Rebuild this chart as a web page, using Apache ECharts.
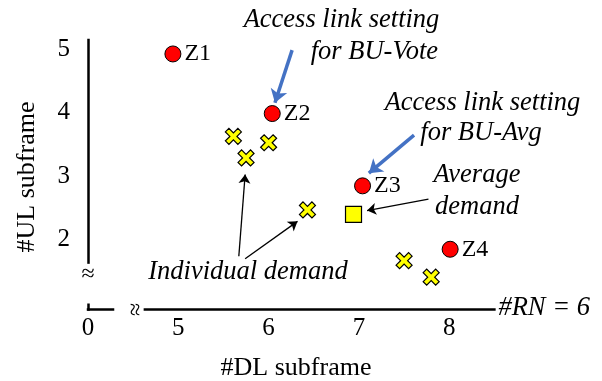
<!DOCTYPE html>
<html>
<head>
<meta charset="utf-8">
<script src="https://cdn.jsdelivr.net/npm/echarts@6/dist/echarts.min.js"></script>
<style>html,body{margin:0;padding:0;background:#fff}#c{width:602px;height:381px}</style>
</head>
<body>
<div id="c"></div>
<script>
// ---- data ----
const zoneNames = ['Z1', 'Z2', 'Z3', 'Z4'];
const zoneDL = [4.94, 6.04, 7.04, 8.01];
const zoneUL = [4.93, 3.99, 2.85, 1.85];
const indivDL = [5.61, 5.75, 6.00, 6.43, 7.50, 7.80];
const indivUL = [3.63, 3.29, 3.53, 2.47, 1.67, 1.41];
const avgDL = [6.94];
const avgUL = [2.40];
const xTickValues = [4, 5, 6, 7, 8];
const xTickLabels = ['0', '5', '6', '7', '8'];
const yTickValues = [2, 3, 4, 5];
const xMin = 4, xMax = 8.5, yMin = 0.9, yMax = 5.15;

// annotation arrows in data coordinates: [fromDL, fromUL, toDL, toUL]
const blueArrows = [[6.26, 4.99, 6.07, 4.16], [7.61, 3.65, 7.11, 3.05]];
const blackArrows = [[7.77, 2.64, 7.09, 2.46], [5.67, 1.74, 5.74, 3.03], [5.74, 1.70, 6.32, 2.29]];

const SERIF = 'Liberation Serif';
const chart = echarts.init(document.getElementById('c'), null, { renderer: 'canvas' });

const xPath = 'path://M0,2.2L2.2,0L5,2.8L7.8,0L10,2.2L7.2,5L10,7.8L7.8,10L5,7.2L2.2,10L0,7.8L2.8,5Z';

function seg(a, b, c, d) { return [{ coord: [a, b] }, { coord: [c, d] }]; }

chart.setOption({
  animation: false,
  grid: { left: 88, right: 107.6, top: 40, bottom: 71.5 },
  xAxis: {
    type: 'value', min: xMin, max: xMax,
    axisLine: { show: false }, axisTick: { show: false }, splitLine: { show: false },
    axisLabel: {
      customValues: xTickValues,
      formatter: v => xTickLabels[xTickValues.indexOf(v)] ?? '',
      fontFamily: SERIF, fontSize: 25, color: '#000', margin: 6
    }
  },
  yAxis: {
    type: 'value', min: yMin, max: yMax,
    axisLine: { show: false }, axisTick: { show: false }, splitLine: { show: false },
    axisLabel: {
      customValues: yTickValues,
      fontFamily: SERIF, fontSize: 25, color: '#000', margin: 18
    }
  },
  series: [
    {
      type: 'scatter', data: [], silent: true,
      markLine: {
        silent: true, symbol: ['none', 'none'], animation: false,
        label: { show: false },
        lineStyle: { color: '#000', width: 2.5, type: 'solid', cap: 'square', opacity: 1 },
        data: [
          seg(xMin, yMax, xMin, 1.64),
          seg(xMin, 0.975, xMin, yMin),
          seg(xMin, yMin, 4.277, yMin),
          seg(4.63, yMin, xMax, yMin)
        ]
      }
    },
    {
      type: 'scatter', data: [], silent: true,
      markLine: {
        silent: true, symbol: ['none', 'arrow'], symbolSize: 13, animation: false,
        label: { show: false },
        itemStyle: { color: '#4472C4' },
        lineStyle: { color: '#4472C4', width: 3.5, type: 'solid', opacity: 1 },
        data: blueArrows.map(a => seg(a[0], a[1], a[2], a[3]))
      }
    },
    {
      type: 'scatter', data: [], silent: true,
      markLine: {
        silent: true, symbol: ['none', 'arrow'], symbolSize: 9, animation: false,
        label: { show: false },
        itemStyle: { color: '#000' },
        lineStyle: { color: '#000', width: 1.3, type: 'solid', opacity: 1 },
        data: blackArrows.map(a => seg(a[0], a[1], a[2], a[3]))
      }
    },
    {
      name: 'Individual demand', type: 'scatter', symbol: xPath, symbolSize: 16,
      itemStyle: { color: '#FFFF00', borderColor: '#000', borderWidth: 1.2, opacity: 1 },
      data: indivDL.map((d, i) => [d, indivUL[i]])
    },
    {
      name: 'Average demand', type: 'scatter', symbol: 'rect', symbolSize: 16,
      itemStyle: { color: '#FFFF00', borderColor: '#000', borderWidth: 1.2, opacity: 1 },
      data: avgDL.map((d, i) => [d, avgUL[i]])
    },
    {
      name: 'Zones', type: 'scatter', symbol: 'circle', symbolSize: 16,
      itemStyle: { color: '#FF0000', borderColor: '#000', borderWidth: 1, opacity: 1 },
      label: {
        show: true, position: 'right', distance: 3, formatter: '{b}',
        fontFamily: SERIF, fontSize: 24, color: '#000', opacity: 1
      },
      data: zoneDL.map((d, i) => ({ name: zoneNames[i], value: [d, zoneUL[i]] }))
    }
  ]
});

const pY = chart.convertToPixel({ gridIndex: 0 }, [xMin, 1.448]);
const pX = chart.convertToPixel({ gridIndex: 0 }, [4.535, yMin]);
const pEnd = chart.convertToPixel({ gridIndex: 0 }, [xMax, yMin]);

const it = (t, x, y, align) => ({
  type: 'text', x, y,
  style: { text: t, font: 'italic 26.5px "Liberation Serif"', fill: '#000', align: align || 'center', verticalAlign: 'middle' }
});

chart.setOption({
  graphic: [
    it('Access link setting', 341.5, 20),
    it('for BU-Vote', 438, 52, 'right'),
    it('Access link setting', 482.5, 103),
    it('for BU-Avg', 481, 133),
    it('Average', 477, 175),
    it('demand', 477, 207),
    it('Individual demand', 248, 272),
    it('#RN = 6', pEnd[0] + 4, pEnd[1] - 1, 'left'),
    {
      type: 'text', x: 296, y: 368,
      style: { text: '#DL subframe', font: '26px "Liberation Serif"', fill: '#000', align: 'center', verticalAlign: 'middle' }
    },
    {
      type: 'text', x: 27, y: 177, rotation: Math.PI / 2,
      style: { text: '#UL subframe', font: '26px "Liberation Serif"', fill: '#000', align: 'center', verticalAlign: 'middle' }
    },
    {
      type: 'text', x: pY[0], y: pY[1],
      style: { text: '≈', font: '24px "Liberation Serif"', fill: '#000', align: 'center', verticalAlign: 'middle' }
    },
    {
      type: 'text', x: pX[0], y: pX[1], rotation: Math.PI / 2,
      style: { text: '≈', font: '24px "Liberation Serif"', fill: '#000', align: 'center', verticalAlign: 'middle' }
    }
  ]
});
</script>
</body>
</html>
